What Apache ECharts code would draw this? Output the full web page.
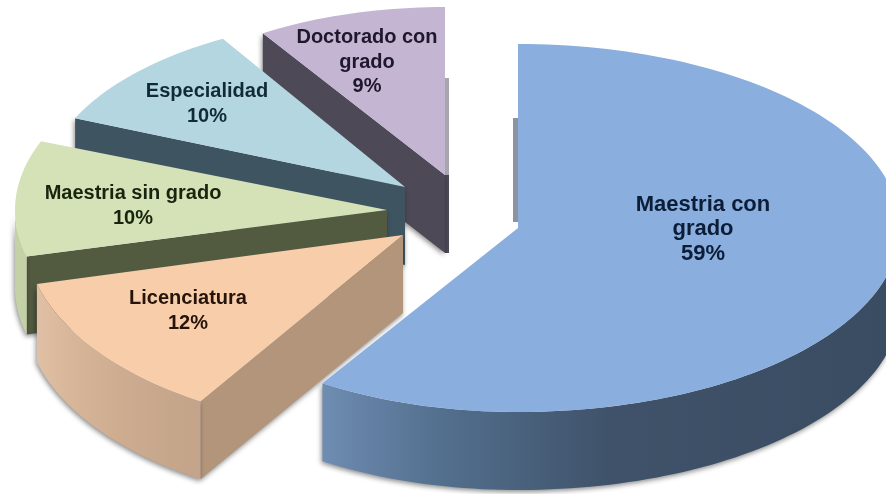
<!DOCTYPE html>
<html>
<head>
<meta charset="utf-8">
<style>html,body{margin:0;padding:0;background:#fff}#c{width:886px;height:494px;filter:blur(0.6px)}</style>
<script src="https://cdn.jsdelivr.net/npm/echarts@6/dist/echarts.min.js"></script>
</head>
<body>
<div id="c"></div>
<script>
// ---- data
var categories = ['Maestria con grado', 'Licenciatura', 'Maestria sin grado', 'Especialidad', 'Doctorado con grado'];
var values = [59, 12, 10, 10, 9];
var labelLines = [['Maestria con', 'grado'], ['Licenciatura'], ['Maestria sin grado'], ['Especialidad'], ['Doctorado con', 'grado']];

// ---- layout of each exploded slice (separate from the values)
var apexX = [518, 403, 387, 405, 445];
var apexY = [228, 235, 210, 187, 175];
var radiusXLeft = [365, 378, 372, 360, 340];
var radiusXRight = [382, 378, 372, 360, 340];
var radiusY = [184, 197, 187, 172, 168];
var angleShift = [0, 0, 0, 2, 0];
var depth = 78;
var labelX = [703, 188, 133, 207, 367];
var labelY = [229, 311, 206, 104, 62];
var labelSize = [22, 20, 20, 20, 20];

// ---- colours
var topColor = ['#8aaedd', '#f8cdaa', '#d5e2b8', '#b4d6e1', '#c4b6d3'];
var radialColor = ['#5a6b80', '#b3957b', '#525a40', '#3e5561', '#4e4957'];
var outerStops = [
  ['#6f8cb2', '#53708f', '#3f5269', '#3a4c62'],
  ['#e0c0a5', '#d8b699', '#cdac90', '#c3a389'],
  ['#c4d0a6', '#c4d0a6', '#c4d0a6', '#c4d0a6'],
  ['#8fa9b2', '#8fa9b2', '#8fa9b2', '#8fa9b2'],
  ['#9a90a6', '#9a90a6', '#9a90a6', '#9a90a6']
];
var textColor = ['#0c1d38', '#26140a', '#18240e', '#102a36', '#1e172d'];
var backStrips = [
  [[513, 118, 5, 104, '#8b94a0']],
  [],
  [],
  [],
  [[445, 78, 4, 97, '#a8a6ad'], [445, 175, 4, 78, '#4e4957']]
];

var total = values.reduce(function (a, b) { return a + b; }, 0);
function point(i, deg, dy) {
  var r = deg * Math.PI / 180, s = Math.sin(r);
  return [apexX[i] + (s > 0 ? radiusXRight[i] : radiusXLeft[i]) * s,
          apexY[i] - radiusY[i] * Math.cos(r) + (dy || 0)];
}
function arc(i, a, b, dy) {
  var pts = [], n = Math.max(2, Math.ceil(Math.abs(b - a) / 1.5));
  for (var k = 0; k <= n; k++) pts.push(point(i, a + (b - a) * k / n, dy));
  return pts;
}
var shadow = { shadowColor: 'rgba(0,0,0,0.45)', shadowBlur: 5, shadowOffsetY: 2, shadowOffsetX: -1 };

function renderItem(params, api) {
  var i = api.value(0), before = 0;
  for (var j = 0; j < i; j++) before += values[j];
  var start = before / total * 360 + angleShift[i], end = (before + api.value(1)) / total * 360 + angleShift[i];
  var children = [];

  backStrips[i].forEach(function (s) {
    children.push({ type: 'rect', shape: { x: s[0], y: s[1], width: s[2], height: s[3] }, style: { fill: s[4] } });
  });

  // radial wall under the starting edge (visible on the left-hand slices)
  if (start > 180) {
    var p = point(i, start);
    children.push({
      type: 'polygon',
      shape: { points: [[apexX[i], apexY[i]], p, [p[0], p[1] + depth], [apexX[i], apexY[i] + depth]] },
      style: Object.assign({ fill: radialColor[i] }, shadow)
    });
  }
  // outer curved wall
  var a = Math.max(start, 90), b = Math.min(end, 270);
  if (b > a) {
    var st = outerStops[i];
    children.push({
      type: 'polygon',
      shape: { points: arc(i, a, b, 0).concat(arc(i, b, a, depth)) },
      style: Object.assign({
        fill: new echarts.graphic.LinearGradient(0, 0, 1, 0, [
          { offset: 0, color: st[0] }, { offset: 0.2, color: st[1] },
          { offset: 0.5, color: st[2] }, { offset: 1, color: st[3] }
        ])
      }, shadow)
    });
  }
  // top surface
  children.push({
    type: 'polygon',
    shape: { points: [[apexX[i], apexY[i]]].concat(arc(i, start, end, 0)) },
    style: { fill: topColor[i] }
  });
  // label
  children.push({
    type: 'text', z2: 100, x: labelX[i], y: labelY[i],
    style: {
      text: labelLines[i].concat([api.value(1) + '%']).join('\n'),
      font: 'bold ' + labelSize[i] + 'px "Liberation Sans", Arial, sans-serif',
      lineHeight: 24.5, fill: textColor[i], align: 'center', verticalAlign: 'middle'
    }
  });
  return { type: 'group', children: children };
}

var chart = echarts.init(document.getElementById('c'), null, { renderer: 'canvas' });
chart.setOption({
  backgroundColor: '#ffffff',
  animation: false,
  series: [{
    type: 'custom',
    coordinateSystem: 'none',
    silent: true,
    clip: false,
    renderItem: renderItem,
    data: categories.map(function (c, i) { return { name: c, value: [i, values[i]] }; }).reverse()
  }]
});
</script>
</body>
</html>
